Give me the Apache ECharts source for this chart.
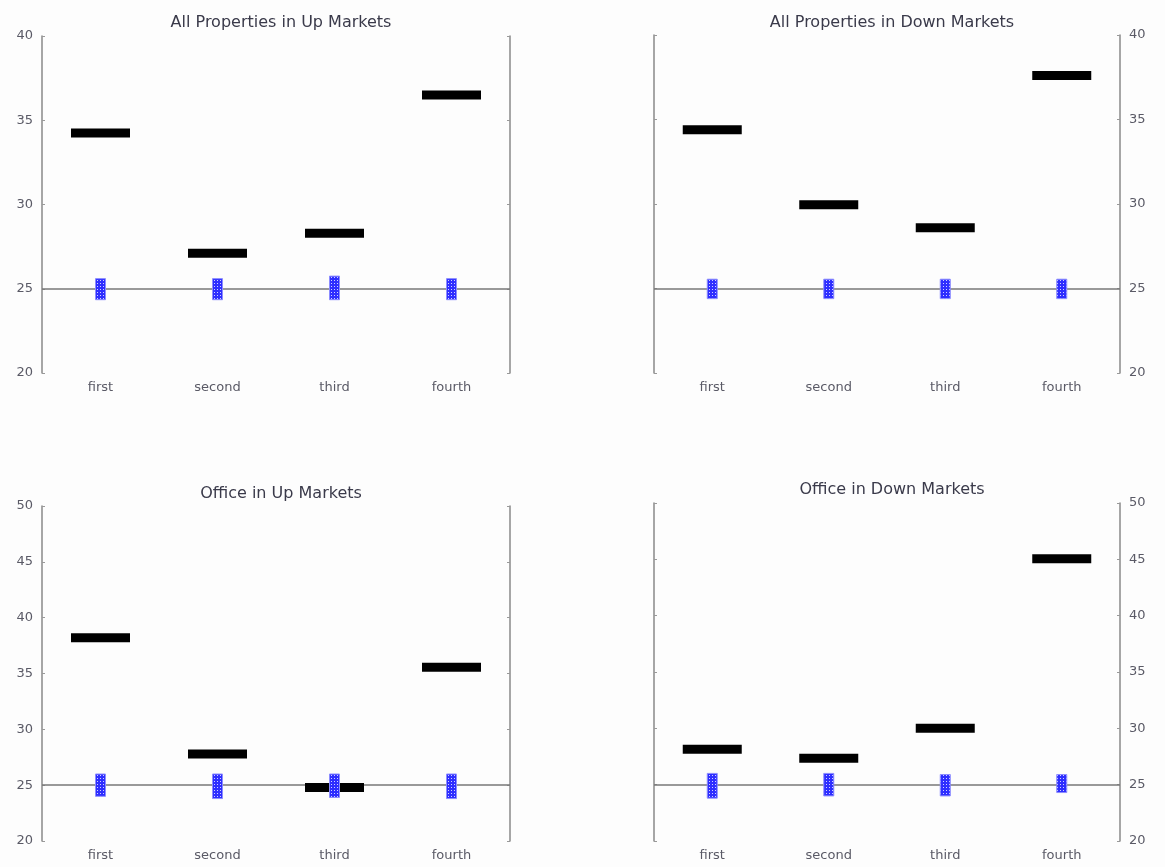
<!DOCTYPE html>
<html>
<head>
<meta charset="utf-8">
<script src="https://cdn.jsdelivr.net/npm/echarts@6/dist/echarts.min.js"></script>
<style>
html,body{margin:0;padding:0;background:#fdfdfd;}
#chart{width:1165px;height:867px;}
</style>
</head>
<body>
<div id="chart"></div>
<script>
var categories = ['first', 'second', 'third', 'fourth'];
var titles = ['All Properties in Up Markets', 'All Properties in Down Markets', 'Office in Up Markets', 'Office in Down Markets'];

var allUpValues = [34.25, 27.1, 28.3, 36.5];
var allDownValues = [34.4, 29.95, 28.6, 37.6];
var officeUpValues = [38.2, 27.8, 24.8, 35.55];
var officeDownValues = [28.15, 27.35, 30.0, 45.05];

var allUpLow = [24.35, 24.35, 24.35, 24.35];
var allUpHigh = [25.6, 25.6, 25.75, 25.6];
var allDownLow = [24.4, 24.4, 24.4, 24.4];
var allDownHigh = [25.55, 25.55, 25.55, 25.55];
var officeUpLow = [24.0, 23.8, 23.9, 23.8];
var officeUpHigh = [26.0, 26.0, 26.0, 26.0];
var officeDownLow = [23.8, 24.0, 24.0, 24.3];
var officeDownHigh = [26.0, 26.0, 25.9, 25.9];

var topTicks = [20, 25, 30, 35, 40];
var bottomTicks = [20, 25, 30, 35, 40, 45, 50];
var referenceLevel = 25;

var panelValues = [allUpValues, allDownValues, officeUpValues, officeDownValues];
var panelLow = [allUpLow, allDownLow, officeUpLow, officeDownLow];
var panelHigh = [allUpHigh, allDownHigh, officeUpHigh, officeDownHigh];
var panelTicks = [topTicks, topTicks, bottomTicks, bottomTicks];

// dotted blue pattern
var pc = document.createElement('canvas');
pc.width = 3; pc.height = 3;
var ctx = pc.getContext('2d');
ctx.fillStyle = '#2e2eff';
ctx.fillRect(0, 0, 3, 3);
ctx.fillStyle = '#d0d0ff';
ctx.fillRect(1, 1, 1, 1);
var bluePattern = { image: pc, repeat: 'repeat' };

var grids = [
  { left: 42, top: 36, width: 468, height: 337 },
  { left: 654, top: 35, width: 466, height: 338 },
  { left: 42, top: 506, width: 468, height: 335 },
  { left: 654, top: 503, width: 466, height: 338 }
];

var font = 'DejaVu Sans';
var option = {
  backgroundColor: '#fdfdfd',
  animation: false,
  title: [],
  grid: grids,
  xAxis: [],
  yAxis: [],
  series: []
};

for (var i = 0; i < 4; i++) {
  var g = grids[i];
  var ticks = panelTicks[i];
  var isRight = (i % 2 === 1);
  option.title.push({
    text: titles[i],
    left: g.left + g.width / 2,
    textAlign: 'center',
    top: (i < 2 ? 10 : (i === 2 ? 481 : 477)),
    textStyle: { fontFamily: font, fontSize: 16, fontWeight: 'normal', color: '#3a3a4a' }
  });
  option.xAxis.push({
    type: 'category',
    gridIndex: i,
    data: categories,
    axisLine: { show: false },
    axisTick: { show: false },
    axisLabel: { fontFamily: font, fontSize: 13, color: '#5a5a66', margin: 8 },
    splitLine: { show: false }
  });
  var axisCommon = {
    type: 'value',
    gridIndex: i,
    min: ticks[0],
    max: ticks[ticks.length - 1],
    interval: 5,
    splitLine: { show: false },
    axisLine: { show: true, lineStyle: { color: '#888', width: 1.5 } },
    axisTick: { show: true, inside: true, length: 3, lineStyle: { color: '#999' } }
  };
  var labelAxis = Object.assign({}, axisCommon, {
    position: isRight ? 'right' : 'left',
    axisLabel: { fontFamily: font, fontSize: 13, color: '#5a5a66', margin: 9 }
  });
  var plainAxis = Object.assign({}, axisCommon, {
    position: isRight ? 'left' : 'right',
    axisLabel: { show: false }
  });
  option.yAxis.push(labelAxis);
  option.yAxis.push(plainAxis);

  var vals = panelValues[i];
  var scatterData = [];
  var rangeData = [];
  for (var k = 0; k < categories.length; k++) {
    scatterData.push([k, vals[k]]);
    rangeData.push([k, panelLow[i][k], panelHigh[i][k]]);
  }
  option.series.push({
    type: 'scatter',
    xAxisIndex: i,
    yAxisIndex: i * 2,
    symbol: 'rect',
    symbolSize: [59, 9],
    itemStyle: { color: '#000', opacity: 1 },
    data: scatterData,
    z: 3,
    silent: true,
    markLine: {
      silent: true,
      symbol: 'none',
      label: { show: false },
      lineStyle: { color: '#777', width: 1.5, type: 'solid' },
      data: [{ yAxis: referenceLevel }],
      z: 2
    }
  });
  option.series.push({
    type: 'custom',
    xAxisIndex: i,
    yAxisIndex: i * 2,
    z: 5,
    silent: true,
    data: rangeData,
    encode: { x: 0, y: [1, 2] },
    renderItem: function (params, api) {
      var x = api.value(0);
      var lo = api.coord([x, api.value(1)]);
      var hi = api.coord([x, api.value(2)]);
      return {
        type: 'rect',
        shape: { x: lo[0] - 5, y: hi[1], width: 10, height: lo[1] - hi[1] },
        style: { fill: bluePattern, stroke: '#8c8cff', lineWidth: 1 }
      };
    }
  });
}

var chart = echarts.init(document.getElementById('chart'), null, { renderer: 'canvas' });
chart.setOption(option);
</script>
</body>
</html>
